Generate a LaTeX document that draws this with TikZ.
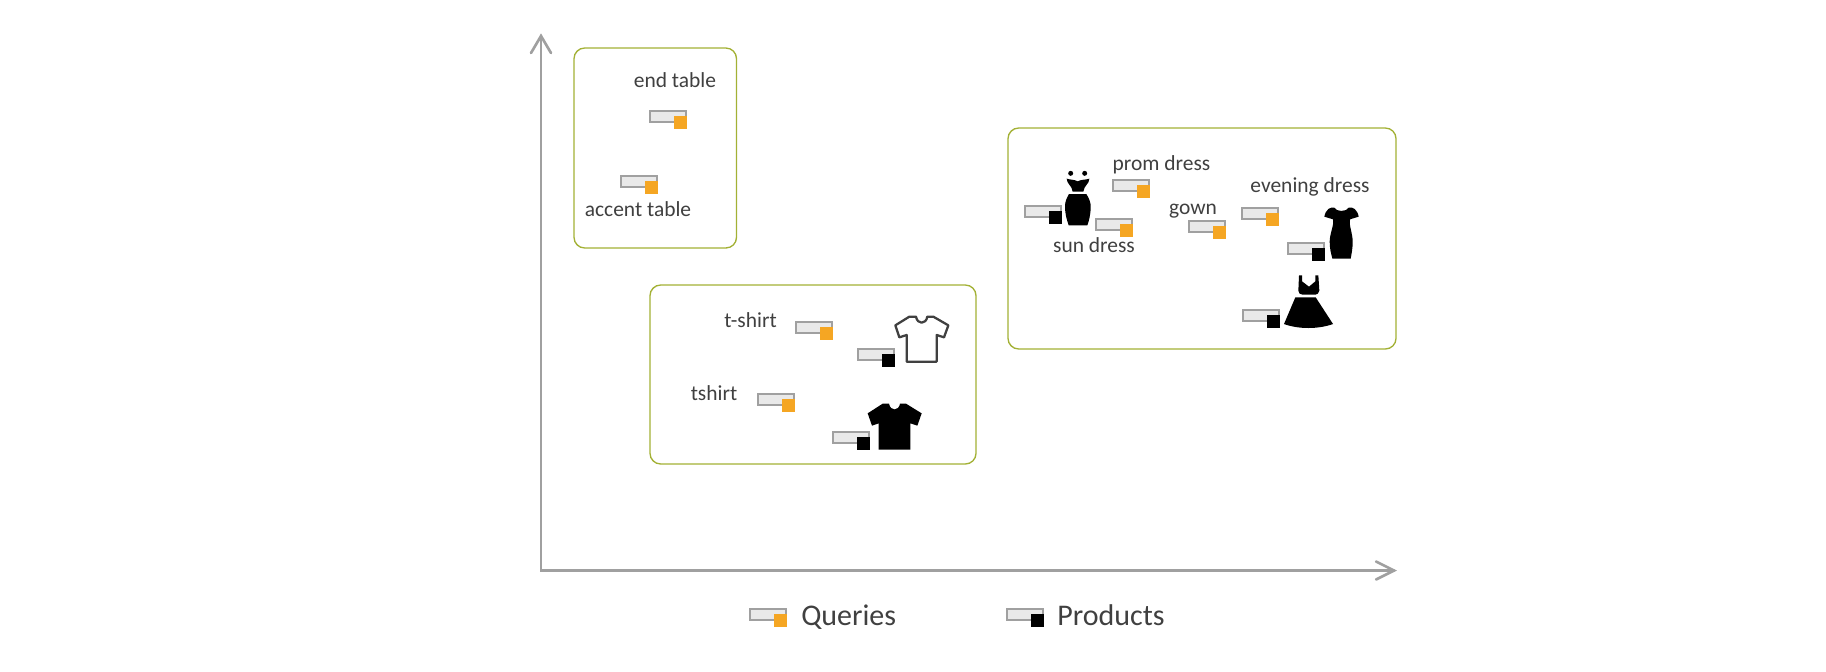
\documentclass[tikz,border=0pt]{standalone}
\usepackage{fontspec}
\setmainfont{Carlito}
\definecolor{axisgrey}{HTML}{A0A0A0}
\definecolor{barfill}{HTML}{E9E9E9}
\definecolor{queryorange}{HTML}{F5A623}
\definecolor{boxolive}{HTML}{A3B135}
\definecolor{inkgrey}{HTML}{404040}
\tikzset{
  axisline/.style={draw=axisgrey,line width=2pt,line cap=round},
  clusterbox/.style={draw=boxolive,line width=1pt,rounded corners=8pt,fill=white},
  termlabel/.style={anchor=base,text=inkgrey,font=\fontsize{16.1pt}{18pt}\selectfont,inner sep=0pt},
  legendlabel/.style={anchor=base west,text=inkgrey,font=\fontsize{22.5pt}{26pt}\selectfont,inner sep=0pt},
  barshape/.style={draw=axisgrey,fill=barfill,line width=1.6pt},
  pics/tagmark/.style={code={
    \draw[barshape] (0,0) rectangle (36,11);
    \fill[#1] (23.5,5) rectangle (36.5,18);
  }},
  zoomA/.style={shift={(1000,120)},x=0.25pt,y=-0.25pt},
  zoomB/.style={shift={(640,280)},x=0.25pt,y=-0.25pt}
}
\begin{document}
\begin{tikzpicture}[x=0.75pt,y=-0.75pt]
\useasboundingbox (0,0) rectangle (1826,671);

% cluster frames
\path[clusterbox] (574,48) rectangle (736.5,248);
\path[clusterbox] (650,285) rectangle (976,464);
\path[clusterbox] (1008,128) rectangle (1396,349);

% axes
\coordinate (origin) at (541,570.5);
\coordinate (ytip) at (541,36);
\coordinate (xtip) at (1394,570.5);
\coordinate (yl) at (531,53);
\coordinate (yr) at (551,53);
\coordinate (xu) at (1376,561.5);
\coordinate (xd) at (1376,579.5);
\draw[axisline] (ytip) -- (origin) -- (xtip);
\draw[axisline,line join=miter] (yl) -- (ytip) -- (yr);
\draw[axisline,line join=miter] (xu) -- (xtip) -- (xd);

% table cluster
\node[termlabel] (endtable) at (675,87.5) {end table};
\node[termlabel] (accenttable) at (638,216) {accent table};
\pic (qendtable) at (650,111) {tagmark=queryorange};
\pic (qaccent) at (621,176) {tagmark=queryorange};

% shirt cluster
\node[termlabel] (tshirtdash) at (750.5,327) {t-shirt};
\node[termlabel] (tshirt) at (714,400) {tshirt};
\pic (qtdash) at (796,322) {tagmark=queryorange};
\pic (ptdash) at (858,349) {tagmark=black};
\pic (qt) at (758,394) {tagmark=queryorange};
\pic (pt) at (833,432) {tagmark=black};

% dress cluster
\node[termlabel] (prom) at (1161.5,170.5) {prom dress};
\node[termlabel] (sun) at (1094,252.5) {sun dress};
\node[termlabel] (gown) at (1193,214.5) {gown};
\node[termlabel] (evening) at (1310,192.5) {evening dress};
\pic (qprom) at (1113,180) {tagmark=queryorange};
\pic (qsun) at (1096,219) {tagmark=queryorange};
\pic (pstrap) at (1025,206) {tagmark=black};
\pic (qgown) at (1189,221) {tagmark=queryorange};
\pic (qevening) at (1242,208) {tagmark=queryorange};
\pic (pevening) at (1288,243) {tagmark=black};
\pic (pball) at (1243,310) {tagmark=black};

% strappy dress
\begin{scope}[zoomA]
  \fill (212,160) circle (7.5);
  \fill (254,160) circle (7.5);
  \fill (200,176) .. controls (212,180) and (222,178) .. (233,184)
        .. controls (244,178) and (256,180) .. (268,176)
        .. controls (268,192) and (252,196) .. (250,215)
        -- (218,215) .. controls (216,196) and (200,192) .. (200,176) -- cycle;
  \fill (207,222) -- (259,222) .. controls (268,236) and (273,250) .. (272,262)
        .. controls (272,285) and (266,305) .. (262,316)
        -- (206,316) .. controls (201,300) and (195,285) .. (195,258)
        .. controls (195,245) and (200,234) .. (207,222) -- cycle;
\end{scope}

% short-sleeved dress
\begin{scope}[zoomA]
  \fill (1003,263) .. controls (1008,276) and (1040,276) .. (1046,263)
        .. controls (1058,260) and (1072,268) .. (1076,290)
        -- (1050,298) .. controls (1046,315) and (1058,340) .. (1058,365)
        .. controls (1058,385) and (1055,400) .. (1052,416)
        -- (997,416) .. controls (993,400) and (989,385) .. (989,365)
        .. controls (989,340) and (1003,315) .. (999,298)
        -- (973,290) .. controls (977,268) and (991,260) .. (1003,263) -- cycle;
\end{scope}

% ball gown
\begin{scope}[zoomA]
  \fill (897,466) -- (906,466) -- (906,484) -- (927,500) -- (946,484) -- (946,466) -- (955,466)
        -- (958,512) .. controls (956,520) and (952,524) .. (946,524)
        -- (908,524) .. controls (900,524) and (896,520) .. (895,512) -- cycle;
  \fill (886,532) -- (947,532) -- (999,612)
        .. controls (955,628) and (895,628) .. (852,612) -- cycle;
\end{scope}

% outlined shirt
\begin{scope}[zoomB]
  \draw[inkgrey,line width=1.7pt,line join=round]
    (800,245) -- (890,245) -- (890,165) -- (912,172) -- (925,136) -- (880,110) -- (862,110)
    .. controls (858,134) and (832,134) .. (828,110)
    -- (808,110) -- (766,136) -- (778,172) -- (800,165) -- cycle;
\end{scope}

% solid shirt
\begin{scope}[zoomB]
  \fill (716,509) -- (811,509) -- (811,430) -- (832,437) -- (845,400) -- (798,371) -- (780,371)
    .. controls (776,394) and (751,394) .. (747,371)
    -- (728,371) -- (683,400) -- (696,437) -- (716,430) -- cycle;
\end{scope}

% legend
\pic (legq) at (750,609) {tagmark=queryorange};
\pic (legp) at (1007,609) {tagmark=black};
\node[legendlabel] (legqueries) at (801,625.5) {Queries};
\node[legendlabel] (legproducts) at (1057,625.5) {Products};
\end{tikzpicture}
\end{document}
